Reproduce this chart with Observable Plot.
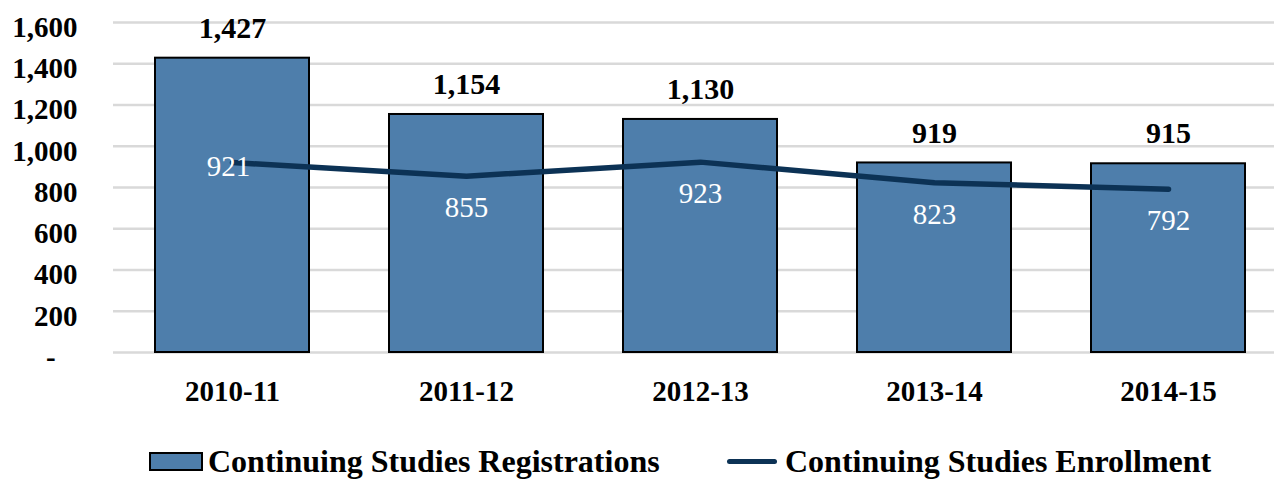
<!DOCTYPE html>
<html>
<head>
<meta charset="utf-8">
<script src="https://cdn.jsdelivr.net/npm/d3@7"></script>
<script src="https://cdn.jsdelivr.net/npm/@observablehq/plot@0.6"></script>
<style>
  html, body { margin: 0; padding: 0; background: #fff; overflow: hidden; width: 1274px; height: 480px; }
  #chart svg { display: block; font-family: "Liberation Serif", "DejaVu Serif", serif; }
  .legend { position: relative; height: 70px; font-family: "Liberation Serif", serif; font-weight: bold; font-size: 32px; line-height: 34px; color: #000; }
  .item { position: absolute; top: 34px; display: flex; align-items: center; white-space: nowrap; }
  .sw-bar { width: 50px; height: 15px; background: #4e7eab; border: 2px solid #000; margin-right: 5px; }
  .sw-line { width: 50px; height: 5px; background: #0c3255; border-radius: 3px; margin-right: 8px; }
</style>
</head>
<body>
<div id="chart"></div>
<div class="legend">
  <div class="item" style="left:149px"><div class="sw-bar"></div><span id="l1"></span></div>
  <div class="item" style="left:727px"><div class="sw-line"></div><span id="l2"></span></div>
</div>
<script>
const years = ["2010-11", "2011-12", "2012-13", "2013-14", "2014-15"];
const registrations = [1427, 1154, 1130, 919, 915];
const enrollment = [921, 855, 923, 823, 792];
const yTicks = [0, 200, 400, 600, 800, 1000, 1200, 1400, 1600];
const seriesNames = ["Continuing Studies Registrations", "Continuing Studies Enrollment"];

document.getElementById("l1").textContent = seriesNames[0];
document.getElementById("l2").textContent = seriesNames[1];

const data = years.map((y, i) => ({year: y, reg: registrations[i], enr: enrollment[i], i}));
const fmt = d3.format(",");

const chart = Plot.plot({
  width: 1274,
  height: 410,
  marginLeft: 113,
  marginRight: 0,
  marginTop: 22,
  marginBottom: 58,
  x: {domain: years, range: [113, 1287], paddingInner: 0.344, paddingOuter: 0.172, label: null},
  y: {domain: [0, 1600], label: null},
  style: {fontFamily: "Liberation Serif, serif", fontSize: "29px", fontWeight: "bold", color: "#000", overflow: "visible"},
  marks: [
    Plot.ruleY(yTicks, {stroke: "#d9d9d9", strokeWidth: 2.5}),
    Plot.barY(data, {x: "year", y: "reg", fill: "#4e7eab", stroke: "#000", strokeWidth: 2}),
    Plot.text(data, {x: "year", y: "reg", text: d => fmt(d.reg), dy: -30, fill: "#000", fontSize: 30, fontWeight: "bold"}),
    Plot.line(data, {x: "year", y: "enr", stroke: "#0c3255", strokeWidth: 5.5, strokeLinecap: "round", strokeLinejoin: "round"}),
    Plot.text(data.filter(d => d.i === 0), {x: "year", y: "enr", text: d => fmt(d.enr), dy: 4, dx: -4, fill: "#fff", fontSize: 29, fontWeight: "normal"}),
    Plot.text(data.filter(d => d.i > 0), {x: "year", y: "enr", text: d => fmt(d.enr), dy: 32, fill: "#fff", fontSize: 29, fontWeight: "normal"}),
    Plot.axisY({ticks: yTicks, tickSize: 0, tickPadding: 36, dy: 5, tickFormat: d => d === 0 ? "-\u2007\u00a0" : fmt(d), fontSize: 29, fontWeight: "bold", label: null}),
    Plot.axisX({tickSize: 0, tickPadding: 28, fontSize: 29, fontWeight: "bold", label: null})
  ]
});
document.getElementById("chart").append(chart);
</script>
</body>
</html>
